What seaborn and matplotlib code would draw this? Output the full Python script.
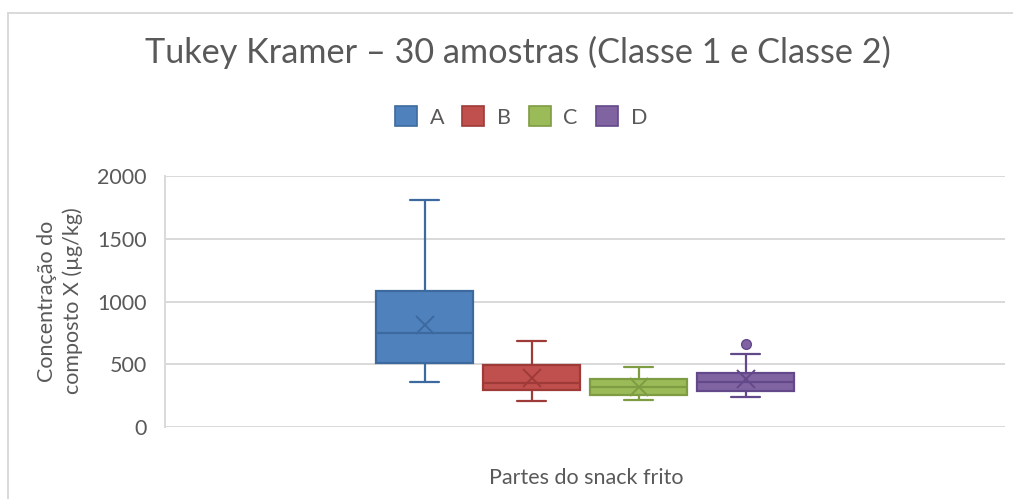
import matplotlib
matplotlib.use("Agg")
import matplotlib.pyplot as plt
from matplotlib.patches import Rectangle, Patch
import seaborn as sns

# ---- data ----
groups = ["A", "B", "C", "D"]
q1 = [512, 295, 255, 289]
median = [752, 353, 321, 361]
q3 = [1085, 494, 382, 430]
whisker_low = [357, 207, 215, 242]
whisker_high = [1812, 685, 478, 580]
means = [810, 388, 320, 382]
outliers = [[], [], [], [661]]
yticks = [0, 500, 1000, 1500, 2000]

title = "Tukey Kramer – 30 amostras (Classe 1 e Classe 2)"
xlabel = "Partes do snack frito"
ylabel = "Concentração do\ncomposto X (µg/kg)"

fills = ["#4F81BD", "#C0504D", "#9BBB59", "#8064A2"]
edges = ["#3D6A9E", "#9E3B38", "#7E9C42", "#64498A"]

sns.set_theme(style="white")
plt.rcParams["font.family"] = ["Lato", "DejaVu Sans"]
text_color = "#595959"
grid_color = "#D9D9D9"
fs = 15.5

fig = plt.figure(figsize=(10.13, 4.99), dpi=100)
W, H = 1013, 499
ax = fig.add_axes([165 / W, (H - 427) / H, 840 / W, 251 / H])

step = 107 / 840
positions = [(i - 1.5) * step for i in range(4)]
box_w = 97 / 840
cap_w = 29 / 840

for i, g in enumerate(groups):
    stats = [dict(label=g, q1=q1[i], med=median[i], q3=q3[i],
                  whislo=whisker_low[i], whishi=whisker_high[i],
                  mean=means[i], fliers=outliers[i])]
    ax.bxp(stats, positions=[positions[i]], widths=box_w, capwidths=cap_w,
           showmeans=True, patch_artist=True, manage_ticks=False,
           boxprops=dict(facecolor=fills[i], edgecolor=edges[i], linewidth=1.6),
           medianprops=dict(color=edges[i], linewidth=1.6),
           whiskerprops=dict(color=edges[i], linewidth=1.6),
           capprops=dict(color=edges[i], linewidth=1.6),
           meanprops=dict(marker="x", markersize=13, markeredgecolor=edges[i],
                          markeredgewidth=1.4, markerfacecolor="none"),
           flierprops=dict(marker="o", markersize=7, markerfacecolor=fills[i],
                           markeredgecolor=edges[i]))

ax.set_xlim(-0.5, 0.5)
ax.set_ylim(0, 2000)
ax.set_yticks(yticks)
ax.set_yticklabels([str(v) for v in yticks], fontsize=fs, color=text_color)
ax.set_xticks([])
ax.tick_params(axis="y", length=0, pad=13)
ax.yaxis.grid(True, color=grid_color, linewidth=1.4)
ax.set_axisbelow(True)
for s in ["top", "right", "bottom"]:
    ax.spines[s].set_visible(False)
ax.spines["left"].set_color(grid_color)
ax.spines["left"].set_linewidth(1.4)

fig.text(518 / W, (H - 52) / H, title, ha="center", va="center",
         fontsize=24.7, color=text_color)
fig.text(586 / W, (H - 478) / H, xlabel, ha="center", va="center",
         fontsize=fs, color=text_color)
fig.text(60 / W, (H - 301) / H, ylabel, ha="center", va="center",
         rotation=90, fontsize=fs, color=text_color, linespacing=1.3)

handles = [Patch(facecolor=fills[i], edgecolor=edges[i], linewidth=1.2, label=g)
           for i, g in enumerate(groups)]
leg = fig.legend(handles=handles, loc="center", bbox_to_anchor=(521 / W, (H - 117) / H),
                 ncol=4, frameon=False, fontsize=fs, handlelength=1.0,
                 handleheight=1.0, handletextpad=0.6, columnspacing=0.85)
for t in leg.get_texts():
    t.set_color(text_color)

fig.patches.append(Rectangle((8 / W, -0.1), 1.2, (H - 13) / H + 0.1,
                             transform=fig.transFigure, fill=False,
                             edgecolor=grid_color, linewidth=1.4))

fig.savefig("out.png", dpi=100)
